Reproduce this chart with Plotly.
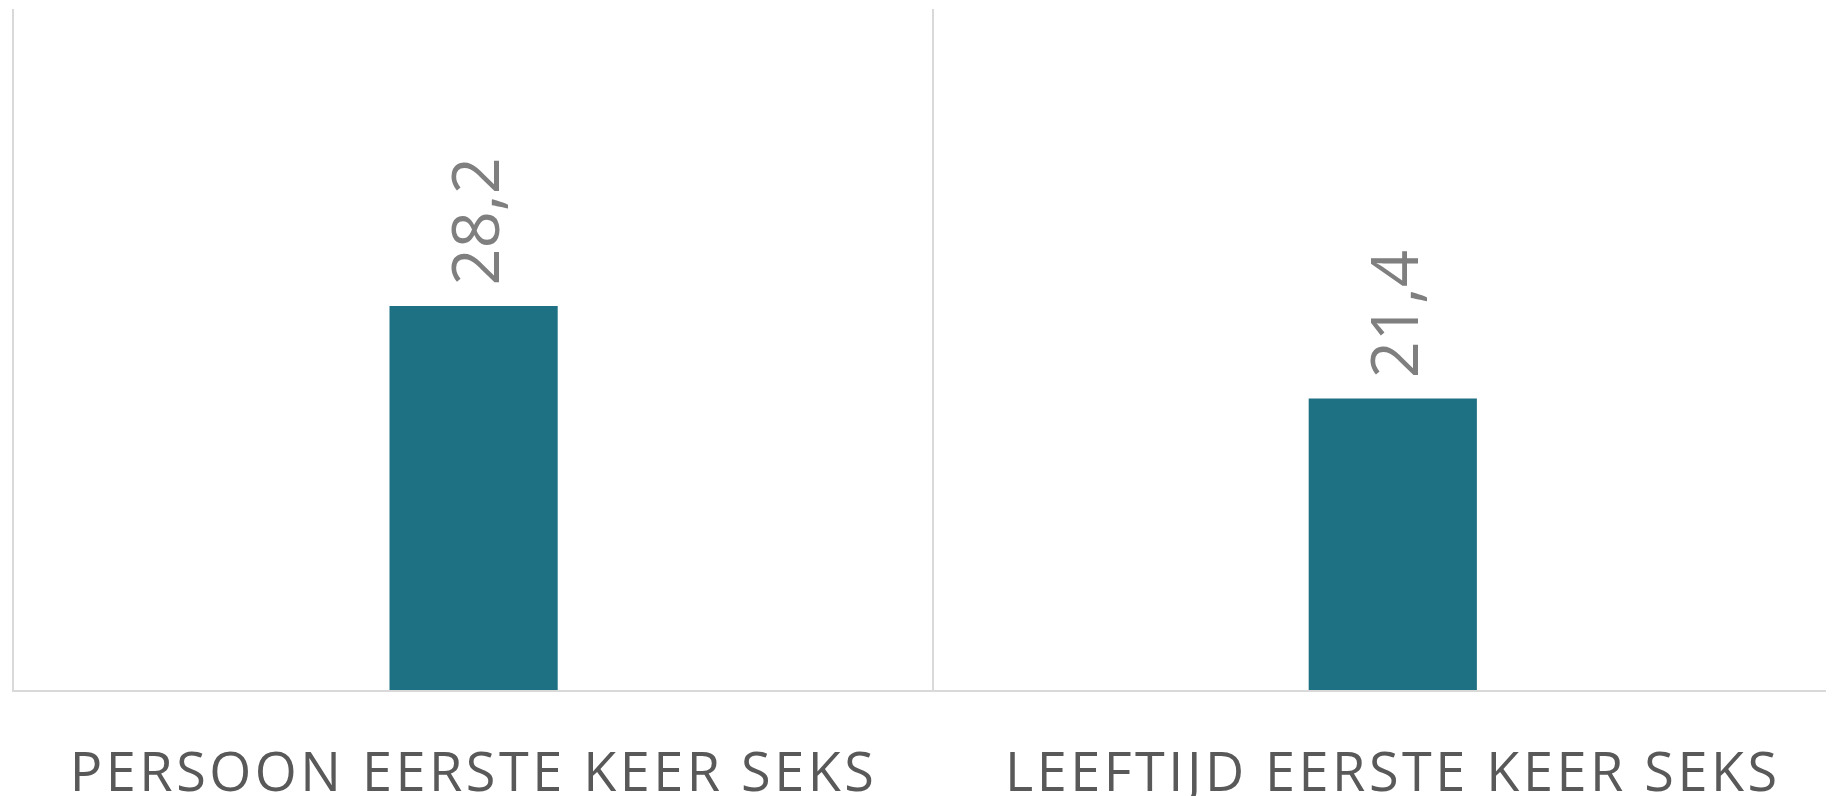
import plotly.graph_objects as go

categories = ["PERSOON EERSTE KEER SEKS", "LEEFTIJD EERSTE KEER SEKS"]
values = [28.2, 21.4]
labels = ["28,2", "21,4"]

fig = go.Figure(
    go.Bar(
        x=categories,
        y=values,
        width=0.183,
        marker=dict(color="#1E7183", line=dict(width=0)),
        hoverinfo="skip",
    )
)

for cat, val, lab in zip(categories, values, labels):
    fig.add_annotation(
        x=cat,
        y=val,
        text=lab,
        textangle=-90,
        showarrow=False,
        yanchor="bottom",
        xanchor="center",
        yshift=18,
        font=dict(family="Open Sans", size=65, color="#7F7F7F"),
    )

fig.update_layout(
    width=1826,
    height=788,
    margin=dict(l=6, r=0, t=1, b=106),
    paper_bgcolor="white",
    plot_bgcolor="white",
    showlegend=False,
    xaxis=dict(
        type="category",
        range=[-0.5, 1.48],
        tickson="boundaries",
        showgrid=True,
        gridcolor="#D9D9D9",
        gridwidth=1.5,
        showline=True,
        linecolor="#D9D9D9",
        linewidth=1.5,
        ticks="",
        automargin=False,
        ticklabelstandoff=34,
        tickfont=dict(family="Open Sans", size=54, color="#595959"),
        fixedrange=True,
    ),
    yaxis=dict(
        range=[0, 50],
        showgrid=False,
        showline=True,
        linecolor="#D9D9D9",
        linewidth=1.5,
        zeroline=False,
        showticklabels=False,
        ticks="",
        automargin=False,
        fixedrange=True,
    ),
)

post = """
var gd = document.getElementById('{plot_id}');
function spaceTicks(){
  document.querySelectorAll('.xtick text').forEach(function(t){ t.style.letterSpacing = '3.5px'; });
}
spaceTicks();
if (gd && gd.on) { gd.on('plotly_afterplot', spaceTicks); }
setTimeout(spaceTicks, 100);
"""

fig.write_html("out.html", post_script=post, config={"displayModeBar": False})
